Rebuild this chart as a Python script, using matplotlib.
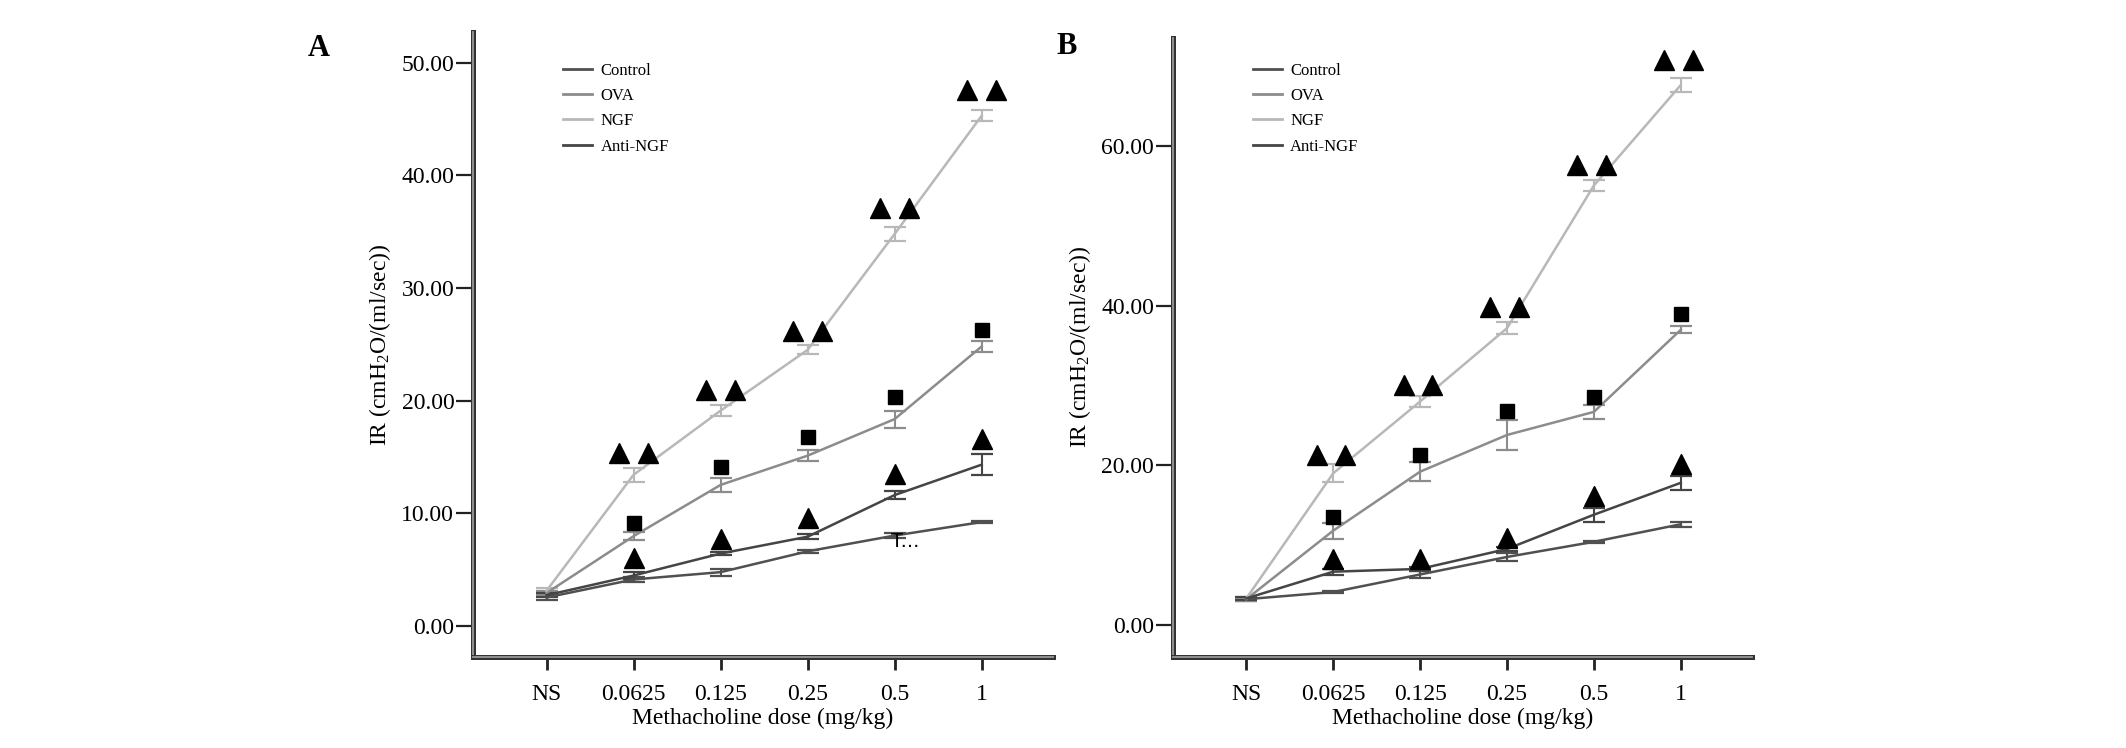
import numpy as np
import matplotlib
matplotlib.use("Agg")
import matplotlib.pyplot as plt
import matplotlib.patheffects as pe
from matplotlib.lines import Line2D

plt.rcParams["font.family"] = ["Liberation Serif", "DejaVu Serif"]
plt.rcParams["mathtext.fontset"] = "custom"
plt.rcParams["mathtext.rm"] = "Liberation Serif"
plt.rcParams["mathtext.it"] = "Liberation Serif:italic"

doses = ["NS", "0.0625", "0.125", "0.25", "0.5", "1"]
groups = ["Control", "OVA", "NGF", "Anti-NGF"]

# panel A  (mean, s.e.)
ctrl_a = [2.5, 4.1, 4.75, 6.6, 8.0, 9.2]
ctrl_a_err = [0.25, 0.2, 0.3, 0.15, 0.2, 0.1]
ova_a = [2.9, 7.95, 12.5, 15.1, 18.35, 24.8]
ova_a_err = [0.2, 0.35, 0.6, 0.5, 0.75, 0.5]
ngf_a = [3.1, 13.4, 19.1, 24.5, 34.8, 45.3]
ngf_a_err = [0.2, 0.6, 0.5, 0.4, 0.6, 0.5]
anti_a = [2.7, 4.45, 6.4, 7.9, 11.6, 14.3]
anti_a_err = [0.2, 0.3, 0.15, 0.2, 0.35, 0.95]
# significance symbols, panel A
ngf_tri_a = [np.nan, 15.3, 20.9, 26.2, 37.1, 47.6]
ova_sq_a = [np.nan, 9.1, 14.1, 16.8, 20.3, 26.3]
anti_tri_a = [np.nan, 6.0, 7.7, 9.55, 13.5, 16.6]

# panel B
ctrl_b = [3.2, 4.1, 6.3, 8.5, 10.4, 12.6]
ctrl_b_err = [0.2, 0.15, 0.45, 0.45, 0.15, 0.3]
ova_b = [3.2, 11.8, 19.2, 23.8, 26.7, 37.0]
ova_b_err = [0.2, 1.0, 1.2, 1.9, 0.85, 0.45]
ngf_b = [3.3, 19.0, 28.0, 37.2, 55.1, 67.7]
ngf_b_err = [0.2, 1.1, 0.65, 0.75, 0.7, 0.9]
anti_b = [3.3, 6.65, 7.0, 9.5, 13.8, 17.8]
anti_b_err = [0.2, 0.4, 0.2, 0.3, 0.9, 0.9]
ngf_tri_b = [np.nan, 21.3, 30.1, 39.9, 57.7, 70.8]
ova_sq_b = [np.nan, 13.5, 21.3, 26.8, 28.6, 39.0]
anti_tri_b = [np.nan, 8.3, 8.2, 10.9, 16.1, 20.1]

colors = {"Control": "#505050", "OVA": "#8c8c8c", "NGF": "#b8b8b8", "Anti-NGF": "#454545"}


def draw_panel(ax, data, errs, ngf_tri, ova_sq, anti_tri, tri_off, ylim, yticks, legend_xy):
    x = np.arange(len(doses))
    for g in groups:
        ax.errorbar(x, data[g], yerr=errs[g], color=colors[g], lw=1.8,
                    capsize=8, elinewidth=1.5, capthick=1.6, zorder=2)
    # black significance marks
    for off in tri_off:
        ax.plot(x + off, ngf_tri, ls="none", marker="^", ms=15, color="black", zorder=4)
    ax.plot(x, ova_sq, ls="none", marker="s", ms=10, color="black", zorder=4)
    ax.plot(x, anti_tri, ls="none", marker="^", ms=15, color="black", zorder=4)

    ax.set_xlim(-0.845, 5.82)
    ax.set_ylim(*ylim)
    ax.set_xticks(x)
    ax.set_xticklabels(doses)
    ax.set_yticks(yticks)
    ax.set_yticklabels(["%.2f" % v for v in yticks])
    ax.tick_params(axis="x", length=9.5, width=2, pad=10, labelsize=17, color="#222")
    ax.tick_params(axis="y", length=12, width=1.6, pad=1.5, labelsize=17, color="#222")
    for s in ["top", "right"]:
        ax.spines[s].set_visible(False)
    for s in ["left", "bottom"]:
        ax.spines[s].set_color("#9a9a9a")
        ax.spines[s].set_linewidth(1.3)
        ax.spines[s].set_path_effects([pe.Stroke(linewidth=3.6, foreground="#333333"), pe.Normal()])
    ax.set_xlabel("Methacholine dose (mg/kg)", fontsize=17, labelpad=2)
    ax.set_ylabel("IR (cmH$_2$O/(ml/sec))", fontsize=17, labelpad=6)
    handles = [Line2D([], [], color=colors[g], lw=2) for g in groups]
    ax.legend(handles, groups, loc="center left", bbox_to_anchor=legend_xy, frameon=False,
              fontsize=12, handlelength=1.75, handletextpad=0.5, labelspacing=0.56,
              borderpad=0, borderaxespad=0)


fig = plt.figure(figsize=(21.26, 7.48), dpi=100)
ax_a = fig.add_axes([0.2225, 0.1221, 0.2728, 0.8345])
ax_b = fig.add_axes([0.5517, 0.1222, 0.2724, 0.8270])

draw_panel(ax_a,
           {"Control": ctrl_a, "OVA": ova_a, "NGF": ngf_a, "Anti-NGF": anti_a},
           {"Control": ctrl_a_err, "OVA": ova_a_err, "NGF": ngf_a_err, "Anti-NGF": anti_a_err},
           ngf_tri_a, ova_sq_a, anti_tri_a, (-0.165, 0.165),
           (-2.76, 52.7), [0, 10, 20, 30, 40, 50], (0.155, 0.878))
draw_panel(ax_b,
           {"Control": ctrl_b, "OVA": ova_b, "NGF": ngf_b, "Anti-NGF": anti_b},
           {"Control": ctrl_b_err, "OVA": ova_b_err, "NGF": ngf_b_err, "Anti-NGF": anti_b_err},
           ngf_tri_b, ova_sq_b, anti_tri_b, (-0.19, 0.14),
           (-4.0, 73.6), [0, 20, 40, 60], (0.138, 0.886))

# stray label fragment next to the control bar at 0.5 in panel A
ax_a.text(3.96, 7.0, "T...", fontsize=14, family="DejaVu Sans", ha="left", va="baseline")

fig.text(319 / 2126, 1 - 48 / 748, "A", fontsize=22, fontweight="bold", ha="center", va="center")
fig.text(1067 / 2126, 1 - 47 / 748, "B", fontsize=22, fontweight="bold", ha="center", va="center")

fig.savefig("out.png", dpi=100, facecolor="white")
